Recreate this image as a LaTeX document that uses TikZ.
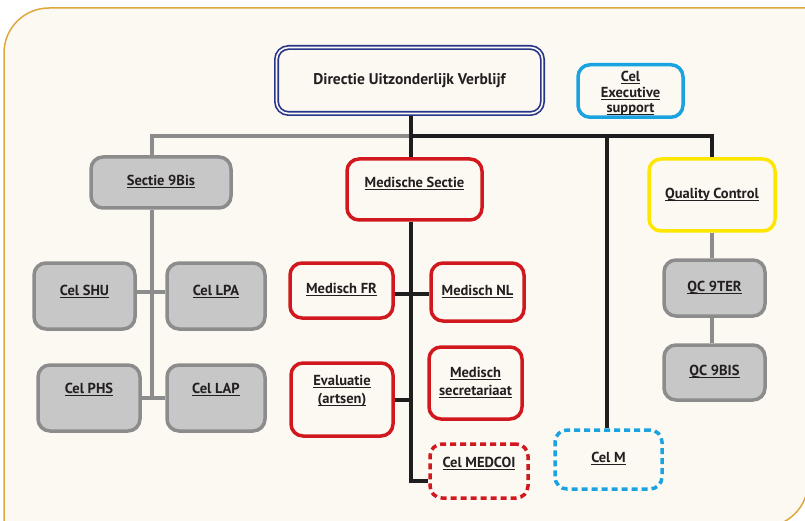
\documentclass[tikz,border=0pt]{standalone}
\usepackage{fontspec}
\setmainfont{PT Sans}
\definecolor{bgc}{HTML}{FCF9F3}
\definecolor{framec}{HTML}{DDA93A}
\definecolor{gline}{HTML}{8C8C8C}
\definecolor{gfill}{HTML}{C6C7C6}
\definecolor{redc}{HTML}{D2181F}
\definecolor{navy}{HTML}{28358A}
\definecolor{bluec}{HTML}{1BA3E1}
\definecolor{yelc}{HTML}{FFE600}
\definecolor{kline}{HTML}{1E1E1E}
\definecolor{txt}{HTML}{231F20}
\newcommand\ulx[1]{\setbox0\hbox{#1}\rlap{\rule[-2.6pt]{\wd0}{1pt}}\box0}
\newcommand\tb[2]{\raisebox{0pt}[\height][\dimexpr\depth+#1\relax]{\begin{tabular}{@{}c@{}}#2\end{tabular}}}
\newcommand\tbdown[2]{\raisebox{0pt}[\dimexpr\height+#1\relax][\depth]{\begin{tabular}{@{}c@{}}#2\end{tabular}}}
\pgfdeclarelayer{bglayer}
\pgfsetlayers{bglayer,main}
\begin{document}
\begin{tikzpicture}[x=1pt,y=-1pt,
  bx/.style={rounded corners=12, line width=3.5, align=center, inner sep=0pt, text=txt,
             font=\fontsize{14.5}{15.5}\selectfont\bfseries},
  gbox/.style={bx, draw=gline, fill=gfill},
  rbox/.style={bx, draw=redc, fill=bgc},
  rdash/.style={rbox, dash pattern=on 6pt off 4pt},
  bbox/.style={bx, draw=bluec, fill=bgc},
  bdash/.style={bbox, dash pattern=on 6pt off 4pt},
  ybox/.style={bx, draw=yelc, fill=bgc},
  dirbox/.style={bx, draw=navy, line width=1.7, double=bgc, double distance=1.6, fill=bgc},
  gl/.style={draw=gline, line width=4},
  kl/.style={draw=kline, line width=4}]
\useasboundingbox (0,0) rectangle (805,521);
\begin{pgfonlayer}{bglayer}
\begin{scope}
\clip (0,0) rectangle (805,521);
\fill[white] (0,0) rectangle (805,521);
\draw[draw=framec, fill=bgc, line width=1.5]
  (4,53) arc[start angle=180, end angle=270, radius=45] -- (808,8) -- (808,482)
  arc[start angle=0, end angle=90, radius=45] -- (4,527) -- cycle;
\end{scope}
\end{pgfonlayer}

% nodes
\node[dirbox, minimum width=266, minimum height=66] (dir) at (409.5,80.5)
  {\fontsize{15.5}{18}\selectfont Directie Uitzonderlijk Verblijf};
\node[bbox, minimum width=105, minimum height=50] (exe) at (630.5,91)
  {\tbdown{6pt}{\ulx{Cel}\\\ulx{Executive}\\\ulx{support}}};

\node[gbox, minimum width=140, minimum height=51] (s9) at (161,182.5) {\tb{0pt}{\ulx{Sectie 9Bis}}};
\node[gbox, minimum width=101, minimum height=66] (shu) at (84.5,296) {\tb{8pt}{\ulx{Cel SHU}}};
\node[gbox, minimum width=98, minimum height=66] (lpa) at (216,296) {\tb{8pt}{\ulx{Cel LPA}}};
\node[gbox, minimum width=102, minimum height=66] (phs) at (89,398) {\tb{16pt}{\ulx{Cel PHS}}};
\node[gbox, minimum width=98, minimum height=66] (lap) at (216,398) {\tb{16pt}{\ulx{Cel LAP}}};

\node[rbox, minimum width=135, minimum height=61] (ms) at (414.5,189.5) {\tb{10pt}{\ulx{Medische Sectie}}};
\node[rbox, minimum width=103, minimum height=55] (fr) at (341.5,290.5) {\tb{0pt}{\ulx{Medisch FR}}};
\node[rbox, minimum width=93, minimum height=58] (nl) at (477.5,292) {\tb{0pt}{\ulx{Medisch NL}}};
\node[rbox, minimum width=102, minimum height=73] (ev) at (342,399.5) {\tb{17pt}{\ulx{Evaluatie}\\[2.5pt]\ulx{(artsen)}}};
\node[rbox, minimum width=93, minimum height=72] (sec) at (475.5,383) {\tb{0pt}{\ulx{Medisch}\\[2.5pt]\ulx{secretariaat}}};
\node[rdash, minimum width=98, minimum height=54] (medcoi) at (479,471) {\tb{14pt}{\ulx{Cel MEDCOI}}};

\node[bdash, minimum width=107, minimum height=59] (celm) at (608.5,459.5) {\tb{0pt}{\ulx{Cel M}}};

\node[ybox, minimum width=126, minimum height=72] (qc) at (712,195) {\tb{0pt}{\ulx{Quality Control}}};
\node[gbox, minimum width=101, minimum height=56] (q9t) at (714.5,288) {\tb{0pt}{\ulx{QC 9TER}}};
\node[gbox, minimum width=101, minimum height=55] (q9b) at (714.5,372.5) {\tb{0pt}{\ulx{QC 9BIS}}};

% connectors
\coordinate (jL) at (152,136);
\coordinate (jM) at (411,136);
\coordinate (jC) at (607,136);
\coordinate (jQ) at (712,136);
\coordinate (jS) at (152,398);
\coordinate (jB) at (411,481);
\begin{pgfonlayer}{bglayer}
\draw[gl] (jL |- s9.north) -- (jL) -- (jM);
\draw[gl] (jL |- s9.south) -- (jS);
\draw[gl] ([yshift=4]shu.east) -- ([yshift=4]shu.east -| lpa.west);
\draw[gl] (phs.east) -- (lap.west);
\draw[gl] (qc.south) -- (qc.south |- q9t.north);
\draw[gl] (qc.south |- q9t.south) -- (qc.south |- q9b.north);
\draw[kl] (jM |- dir.south) -- (jM |- ms.north);
\draw[kl] (jM) -- (jQ) -- (jQ |- qc.north);
\draw[kl] (jC) -- (jC |- celm.north);
\draw[kl] (jM |- ms.south) -- (jB) -- (jB -| medcoi.west);
\draw[kl] ([yshift=-3.5]fr.east) -- ([yshift=-3.5]fr.east -| nl.west);
\draw[kl] (ev.east) -- (ev.east -| jM);
\end{pgfonlayer}
\end{tikzpicture}
\end{document}
